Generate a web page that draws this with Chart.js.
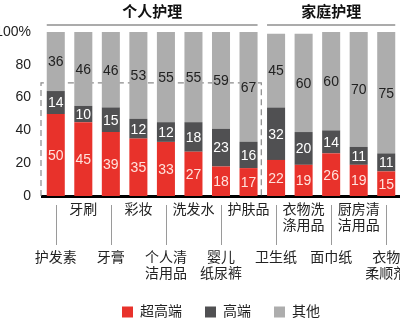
<!DOCTYPE html>
<html>
<head>
<meta charset="utf-8">
<script src="https://cdn.jsdelivr.net/npm/chart.js@4/dist/chart.umd.min.js"></script>
<style>
  html, body { margin: 0; padding: 0; background: #fff; }
  #wrap { width: 400px; height: 323px; }
</style>
</head>
<body>
<div id="wrap"><canvas id="c"></canvas></div>
<script>
// categories (13 products)
const categories = ["护发素", "牙刷", "牙膏", "彩妆", "个人清洁用品", "洗发水", "婴儿纸尿裤", "护肤品",
  "卫生纸", "衣物洗涤用品", "面巾纸", "厨房清洁用品", "衣物柔顺剂"]
// tick labels, alternating up / down
const tickLines = [
  ["", "", "", "护发素"], ["牙刷"], ["", "", "", "牙膏"], ["彩妆"],
  ["", "", "", "个人清", "洁用品"], ["洗发水"], ["", "", "", "婴儿", "纸尿裤"], ["护肤品"],
  ["", "", "", "卫生纸"], ["衣物洗", "涤用品"], ["", "", "", "面巾纸"], ["厨房清", "洁用品"],
  ["", "", "", "衣物", "柔顺剂"]
]
const superHigh = [50, 45, 39, 35, 33, 27, 18, 17, 22, 19, 26, 19, 15]
const high = [14, 10, 15, 12, 12, 18, 23, 16, 32, 20, 14, 11, 11]
const other = [36, 46, 46, 53, 55, 55, 59, 67, 45, 60, 60, 70, 75]
const seriesNames = ["超高端", "高端", "其他"]
const groups = [
  { name: "个人护理", from: 0, to: 7 },
  { name: "家庭护理", from: 8, to: 12 }
]
const dashedLevel = 69

const FONT = "'Liberation Sans', 'Noto Sans CJK SC', sans-serif"
const labelColors = ["#ffe2dc", "#ffffff", "#222222"]

const extras = {
  id: "extras",
  beforeDatasetsDraw(chart) {
    const { ctx, chartArea } = chart
    const x = chart.scales.x, y = chart.scales.y
    // dashed frame around personal care block
    const yy = y.getPixelForValue(dashedLevel)
    const x0 = x.getPixelForValue(-0.5) - 1
    const x1 = x.getPixelForValue(7.5) - 1
    ctx.save()
    ctx.strokeStyle = "#8a8a8a"
    ctx.lineWidth = 1.2
    ctx.setLineDash([6, 4])
    ctx.beginPath()
    ctx.moveTo(x0, chartArea.bottom)
    ctx.lineTo(x0, yy)
    ctx.lineTo(x1, yy)
    ctx.lineTo(x1, chartArea.bottom)
    ctx.stroke()
    ctx.restore()
  },
  afterDatasetsDraw(chart) {
    const { ctx } = chart
    ctx.save()
    ctx.font = "14px " + FONT
    ctx.textAlign = "center"
    ctx.textBaseline = "middle"
    chart.data.datasets.forEach((ds, di) => {
      const meta = chart.getDatasetMeta(di)
      meta.data.forEach((bar, i) => {
        const top = Math.max(bar.y, chart.chartArea.top)
        ctx.fillStyle = labelColors[di]
        ctx.fillText(ds.data[i], bar.x, (top + bar.base) / 2 + 1)
      })
    })
    ctx.restore()
  },
  afterDraw(chart) {
    const { ctx, chartArea } = chart
    const x = chart.scales.x
    const half = x.getPixelForValue(1) - x.getPixelForValue(0)
    const bw = half * 0.655 / 2
    ctx.save()
    // group headers
    groups.forEach(g => {
      const a = x.getPixelForValue(g.from) - bw
      const b = x.getPixelForValue(g.to) + bw
      ctx.strokeStyle = "#8f8f8f"
      ctx.lineWidth = 1.5
      ctx.beginPath()
      ctx.moveTo(a, 25)
      ctx.lineTo(b, 25)
      ctx.stroke()
      ctx.fillStyle = "#111"
      ctx.font = "bold 15px " + FONT
      ctx.textAlign = "center"
      ctx.textBaseline = "middle"
      ctx.fillText(g.name, (a + b) / 2, 13)
    })
    // leader lines for the lower labels
    ctx.strokeStyle = "#9a9a9a"
    ctx.lineWidth = 1
    for (let i = 0; i < categories.length; i += 2) {
      const px = Math.round(x.getPixelForValue(i)) + 0.5
      ctx.beginPath()
      ctx.moveTo(px, chartArea.bottom + 9)
      ctx.lineTo(px, chartArea.bottom + 49)
      ctx.stroke()
    }
    ctx.restore()
  }
}

new Chart(document.getElementById("c"), {
  type: "bar",
  data: {
    labels: categories,
    datasets: [
      { label: seriesNames[0], data: superHigh, backgroundColor: "#e8322b" },
      { label: seriesNames[1], data: high, backgroundColor: "#505052" },
      { label: seriesNames[2], data: other, backgroundColor: "#adadad" }
    ]
  },
  options: {
    responsive: true,
    maintainAspectRatio: false,
    animation: false,
    datasets: { bar: { barPercentage: 0.655, categoryPercentage: 1, borderWidth: 0 } },
    layout: { padding: { top: 32, right: 0, left: 0, bottom: 0 } },
    scales: {
      x: {
        stacked: true,
        grid: { display: false, drawTicks: false },
        border: { display: true, color: "#000", width: 3 },
        ticks: {
          autoSkip: false,
          maxRotation: 0,
          padding: 6,
          color: "#222",
          font: { family: FONT, size: 14, lineHeight: "16px" },
          callback: (v, i) => tickLines[i]
        },
        afterFit(s) { s.height = 86; s.paddingLeft = 0; s.paddingRight = 0 }
      },
      y: {
        stacked: true,
        min: 0,
        max: 100,
        grid: { display: false, drawTicks: false },
        border: { display: false },
        ticks: {
          stepSize: 20,
          padding: 11,
          color: "#222",
          font: { family: FONT, size: 14 },
          callback: v => v === 100 ? "100%" : v
        },
        afterFit(s) { s.width = 42 }
      }
    },
    plugins: {
      legend: {
        position: "bottom",
        fullSize: false,
        maxHeight: 41,
        labels: {
          boxWidth: 11,
          boxHeight: 11,
          padding: 23,
          color: "#222",
          font: { family: FONT, size: 14 }
        }
      },
      tooltip: { enabled: false }
    }
  },
  plugins: [extras]
})
</script>
</body>
</html>
